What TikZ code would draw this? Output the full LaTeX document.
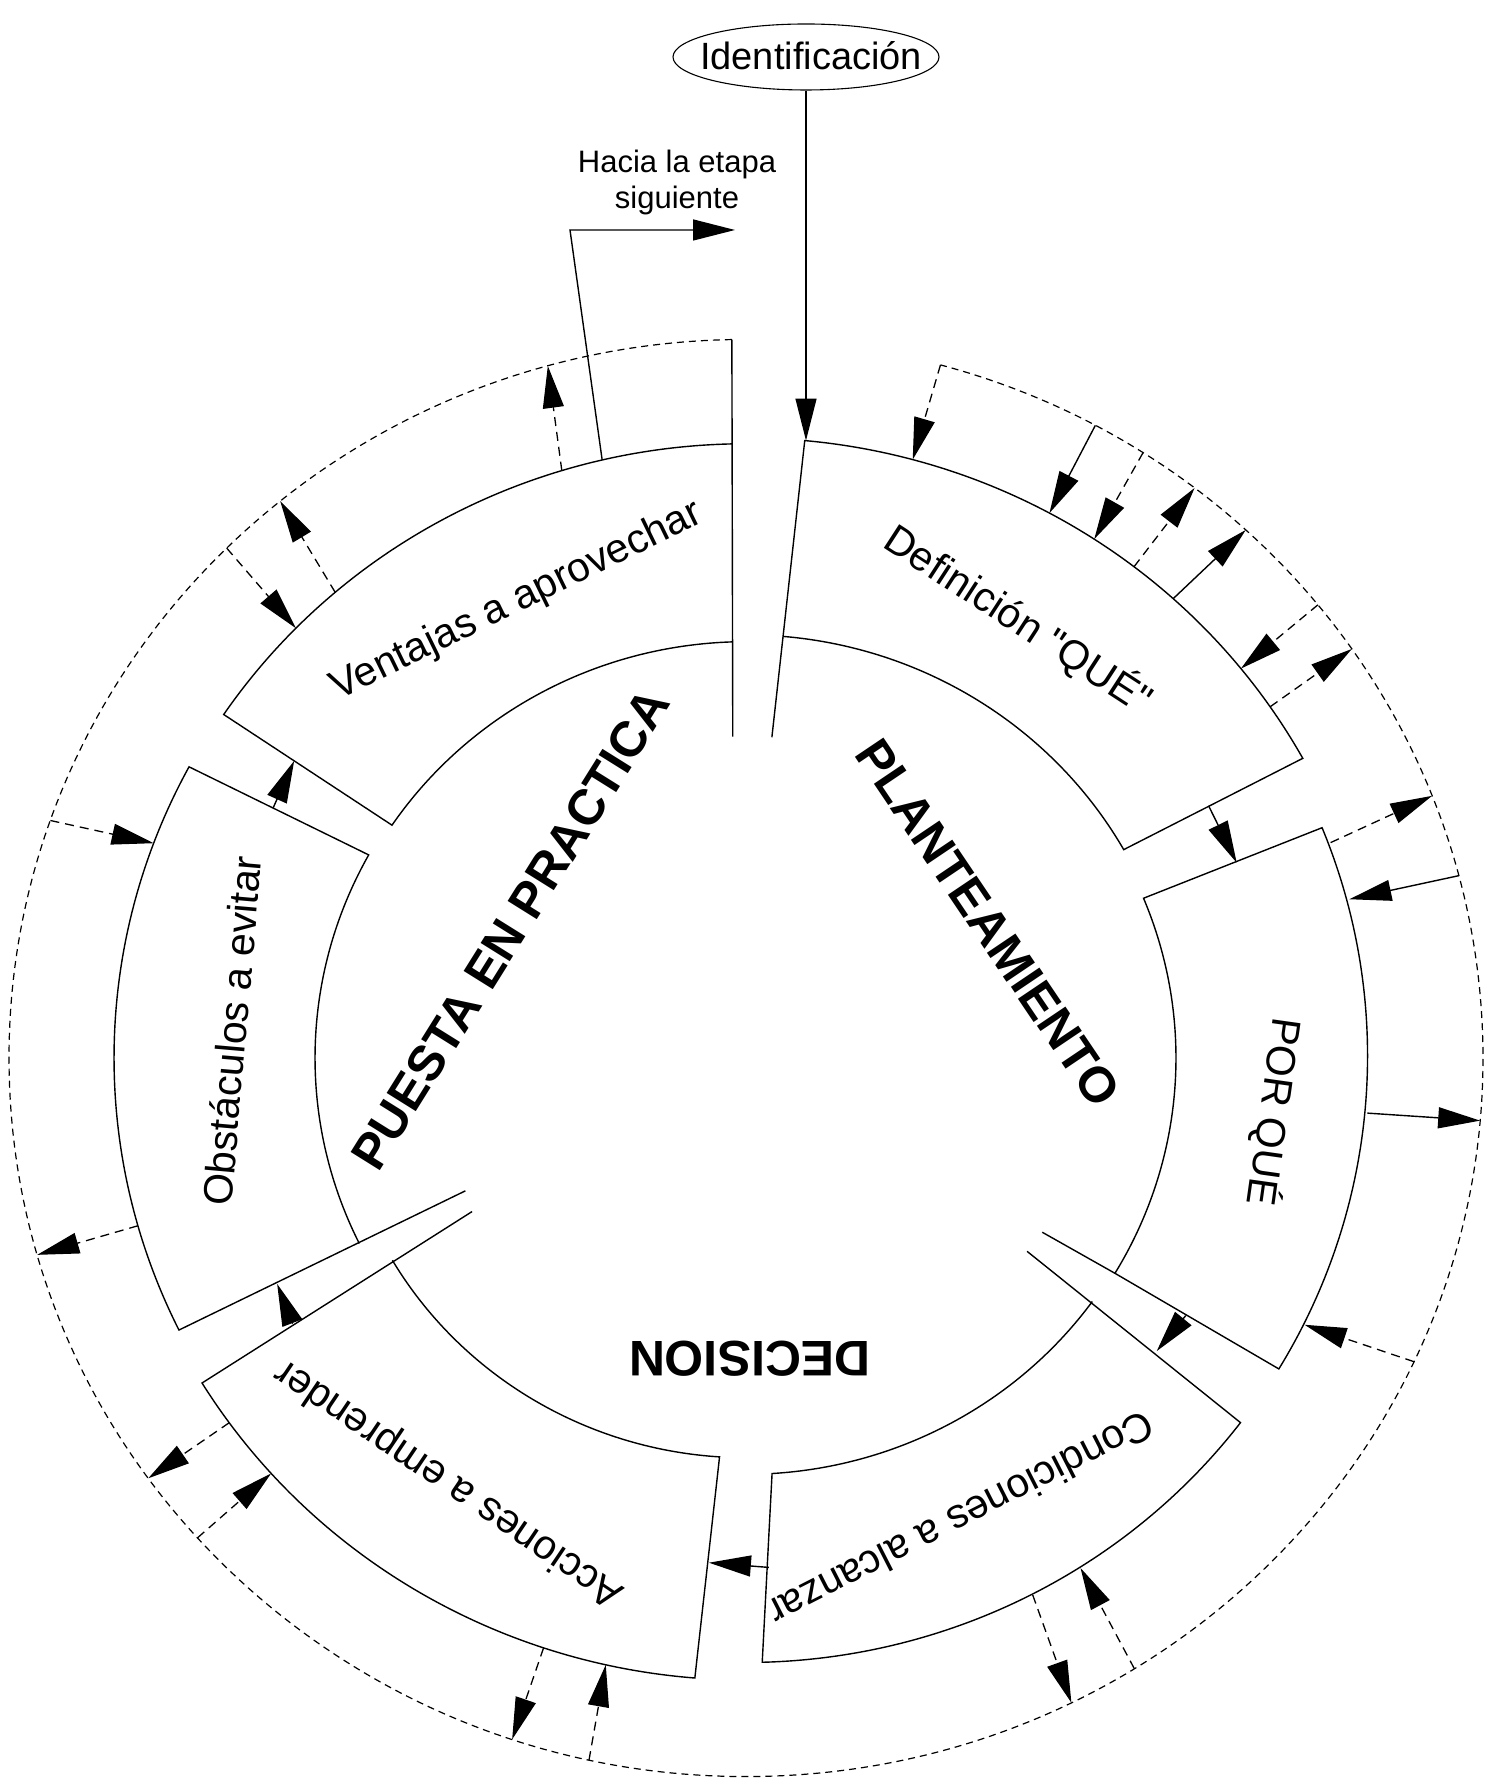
\documentclass[tikz,border=0pt]{standalone}
\usepackage{fontspec}
\setmainfont{Liberation Sans}[Ligatures=TeXOff]
\usetikzlibrary{arrows.meta,shapes.geometric}
\begin{document}
\begin{tikzpicture}[x=1pt,y=1pt,
  ln/.style={line width=1.4pt},
  dl/.style={line width=1.3pt,dash pattern=on 9pt off 6pt},
  dc/.style={line width=1.2pt,dash pattern=on 7pt off 5pt},
  arr/.style={-{Triangle[length=42pt,width=21pt]}},
  lab/.style={font=\fontsize{41}{48}\selectfont,inner sep=0pt},
  bigl/.style={font=\fontsize{50}{58}\selectfont\bfseries,inner sep=0pt},
  sml/.style={font=\fontsize{31}{36}\selectfont,inner sep=0pt,align=center}]
\useasboundingbox (0,0) rectangle (1494,1781);
\fill[white] (0,0) rectangle (1494,1781);

% Identificacion
\node[ellipse,draw,line width=1.1pt,minimum width=266pt,minimum height=66pt,inner sep=0pt] (idell) at (806,1724) {};
\node[anchor=base,font=\fontsize{38}{44}\selectfont,inner sep=0pt] (ident) at (811,1711) {Identificación};

\node[sml,anchor=north] (hacia) at (677,1631) {Hacia la etapa\\siguiente};
\coordinate (hcorner) at (570,1551);
\coordinate (hend) at (735,1551);

\begin{scope}[shift={(746,723)},yscale=0.975]
 % dashed outer circle
 \draw[dc] (91.1:737) arc[start angle=91.1,end angle=434.7,radius=737];
 % Ventajas a aprovechar
 \draw[ln] (91.8:427) arc[start angle=91.8,end angle=146,radius=427] -- (146:630) arc[start angle=146,end angle=91.2,radius=630];
 \draw[ln] (92.3:330) -- (91.1:737);
 % Definicion
 \coordinate (defTL) at (84.7:636);
 \draw[ln] (85.5:330) -- (defTL) arc[start angle=84.7,end angle=28.9,radius=636] -- (29.5:434) arc[start angle=29.5,end angle=85.2,radius=434];
 % Por que
 \draw[ln] (22.4:430) arc[start angle=22.4,end angle=-30.9,radius=430] -- (-30.9:621) arc[start angle=-30.9,end angle=22.0,radius=625] -- cycle;
 \draw[ln] (-31.1:346) -- (-30.9:430);
 % Condiciones
 \draw[ln] (324.8:344) -- (322.9:620) arc[start angle=322.9,end angle=271.5,radius=620] -- (273.5:427) arc[start angle=273.5,end angle=324.2,radius=427];
 % Acciones
 \draw[ln] (209.9:316) -- (211.5:638) arc[start angle=211.5,end angle=265.4,radius=638] -- (266.3:410) arc[start angle=266.3,end angle=210.4,radius=410];
 % Obstaculos
 \draw[ln] (205.9:312) -- (206.2:632) arc[start angle=206.2,end angle=151.8,radius=632] -- (151.1:431) arc[start angle=151.1,end angle=206.2,radius=431];

 % arrows Definicion
 \draw[dl,arr] (74.7:737) -- (74.8:636);
 \draw[ln,arr] (61.7:737) -- (61.5:636);
 \draw[dl,arr] (57.4:737) -- (56.8:636);
 \draw[dl,arr] (52.4:636) -- (52.5:737);
 \draw[ln,arr] (47.8:636) -- (47.3:737);
 \draw[dl,arr] (39.1:737) -- (38.9:636);
 \draw[dl,arr] (34.5:636) -- (34.7:737);
 \draw[ln,arr] (29.2:530) -- (22.2:530);
 % arrows Por que
 \draw[dl,arr] (20.7:625) -- (21.4:737);
 \draw[ln,arr] (14.7:737) -- (15.1:625);
 \draw[ln,arr] (-5.2:624) -- (-5.0:737);
 \draw[dl,arr] (-25:737) -- (-26.1:622);
 \draw[ln,arr] (-31:513) -- (-36.2:509);
 % arrows Condiciones
 \draw[dl,arr] (301.8:737) -- (302.6:621);
 \draw[dl,arr] (297.5:621) -- (296.2:737);
 \draw[ln,arr] (272.5:523) -- (265.9:519);
 % arrows Acciones
 \draw[dl,arr] (257.7:737) -- (257.3:638);
 \draw[dl,arr] (251.5:638) -- (251.5:737);
 \draw[dl,arr] (221.9:737) -- (221.9:638);
 \draw[dl,arr] (215.9:638) -- (215.8:737);
 \draw[ln,arr] (211:529) -- (206.3:523);
 % arrows Obstaculos
 \draw[dl,arr] (195.8:632) -- (195.9:737);
 \draw[dl,arr] (160.7:737) -- (159.6:632);
 \draw[ln,arr] (151.5:538) -- (146:545);
 % arrows Ventajas
 \draw[dl,arr] (134.8:737) -- (135.6:630);
 \draw[dl,arr] (130.7:630) -- (129.2:737);
 \draw[dl,arr] (107:630) -- (105.6:737);
 \coordinate (hstart) at (103.2:630);

 % labels
 \node[lab,rotate=26] (tVent) at (116.1:521) {Ventajas a aprovechar};
 \node[lab,rotate=-33] (tDef) at (58.8:526) {Definición "QUÉ"};
 \node[lab,rotate=-98] (tPor) at (-6:531) {POR QUÉ};
 \node[lab,rotate=207] (tCond) at (294.5:520) {Condiciones a alcanzar};
 \node[lab,rotate=146] (tAcc) at (235.7:527) {Acciones a emprender};
 \node[lab,rotate=85] (tObs) at (176.9:515) {Obstáculos a evitar};
 \node[bigl,rotate=58] (tPue) at (150.7:270) {PUESTA EN PRACTICA};
 \node[bigl,rotate=-56] (tPla) at (29.8:279) {PLANTEAMIENTO};
 \node[bigl,rotate=180] (tDec) at (270.7:308) {DECISION};
\end{scope}

\draw[ln,arr] (idell.south) -- (idell.south |- defTL);
\draw[ln,arr] (hstart) -- (hcorner) -- (hend);
\end{tikzpicture}
\end{document}
